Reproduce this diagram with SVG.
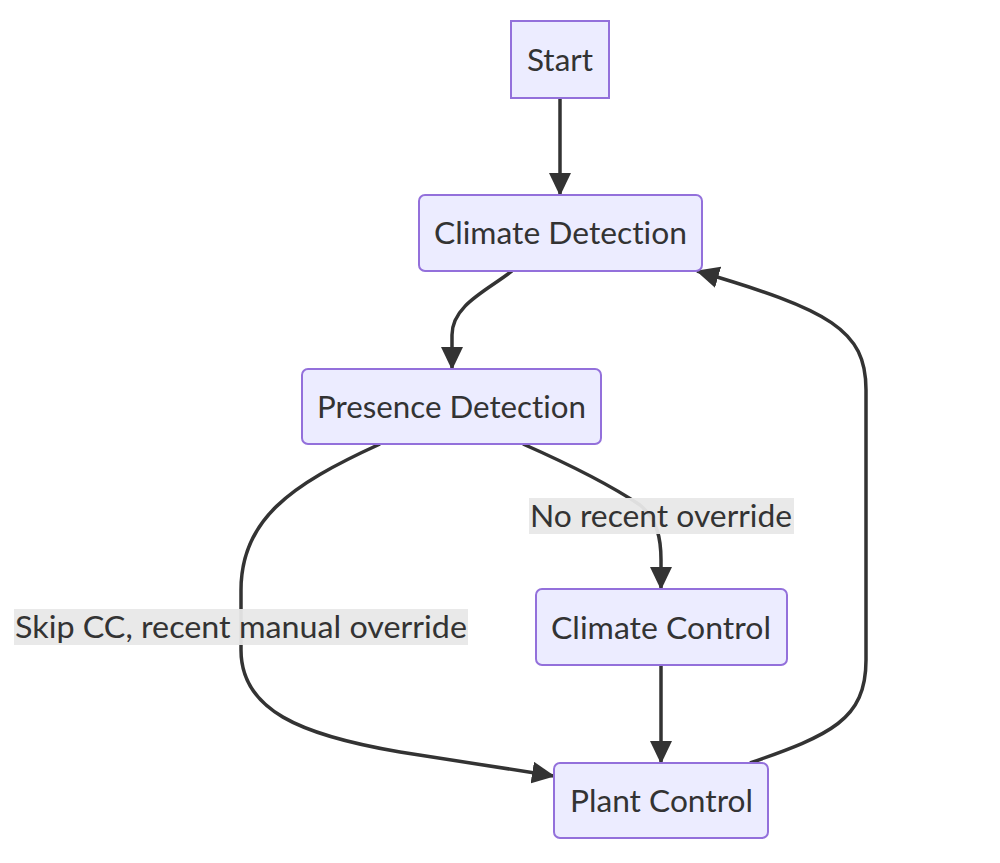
<svg xmlns="http://www.w3.org/2000/svg" width="1000" height="863" viewBox="0 0 1000 863">
<defs>
<marker id="arrow" viewBox="0 0 23 22" refX="22" refY="11" markerWidth="23" markerHeight="22" markerUnits="userSpaceOnUse" orient="auto">
<path d="M0,0 L23,11 L0,22 z" fill="#333333"/>
</marker>
<style>
.node rect{fill:#ECECFF;stroke:#9370DB;stroke-width:2}
.node text,.label text{font-family:Lato,"Open Sans","DejaVu Sans",sans-serif;font-size:30px;fill:#333333;text-anchor:middle;font-variant-ligatures:none;font-feature-settings:"liga" 0,"dlig" 0}
.edge{fill:none;stroke:#333333;stroke-width:3.5;marker-end:url(#arrow)}
.label rect{fill:#e8e8e8;opacity:0.95}
</style>
</defs>
<rect width="1000" height="863" fill="#ffffff"/>
<g id="connectors">
<path class="edge" d="M560,98 L560,195"/>
<path class="edge" d="M512,271 C488,290 452,305 452,335 L452,369"/>
<path class="edge" d="M523,444 Q600,478 640,505 C658,520 661,540 661,560 L661,589"/>
<path class="edge" d="M380,444 C290,485 241,520 241,590 L241,650 C241,710 300,735 400,752 L554,776"/>
<path class="edge" d="M661,665 L661,763"/>
<path class="edge" d="M750,763 C830,735 866,720 866,660 L866,390 C866,330 830,310 697,271"/>
</g>
<g id="label-no-recent" class="label">
<rect x="529" y="498" width="265" height="36"/>
<text x="661" y="527" textLength="262" lengthAdjust="spacingAndGlyphs">No recent override</text>
</g>
<g id="label-skip" class="label">
<rect x="14" y="609" width="454" height="36"/>
<text x="241" y="638" textLength="452" lengthAdjust="spacingAndGlyphs">Skip CC, recent manual override</text>
</g>
<g id="node-start" class="node">
<rect x="511" y="21" width="98" height="77"/>
<text x="560" y="71" textLength="66" lengthAdjust="spacingAndGlyphs">Start</text>
</g>
<g id="node-climate-detection" class="node">
<rect x="419" y="195" width="283" height="76" rx="6"/>
<text x="560.5" y="244" textLength="253" lengthAdjust="spacingAndGlyphs">Climate Detection</text>
</g>
<g id="node-presence-detection" class="node">
<rect x="302" y="369" width="299" height="75" rx="6"/>
<text x="451.5" y="418" textLength="269" lengthAdjust="spacingAndGlyphs">Presence Detection</text>
</g>
<g id="node-climate-control" class="node">
<rect x="536" y="589" width="251" height="76" rx="6"/>
<text x="661" y="639" textLength="220" lengthAdjust="spacingAndGlyphs">Climate Control</text>
</g>
<g id="node-plant-control" class="node">
<rect x="554" y="763" width="214" height="75" rx="6"/>
<text x="661.5" y="812" textLength="183" lengthAdjust="spacingAndGlyphs">Plant Control</text>
</g>
</svg>
